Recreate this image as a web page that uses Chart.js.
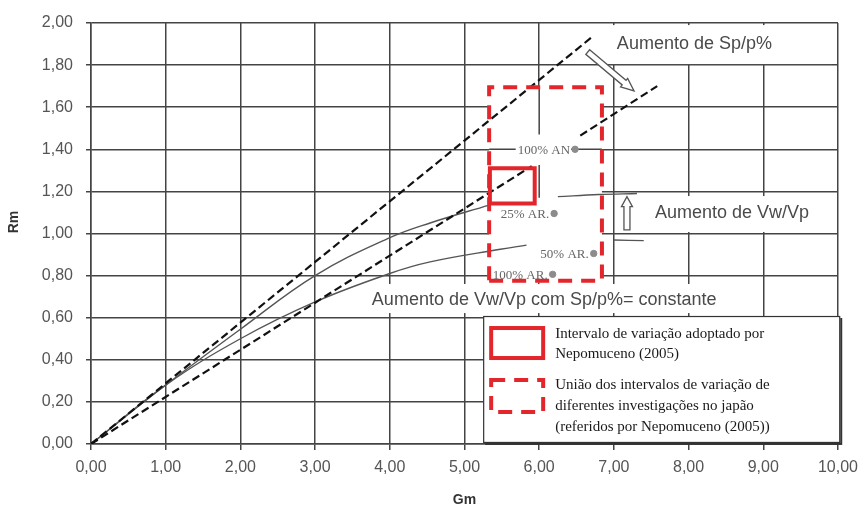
<!DOCTYPE html>
<html>
<head>
<meta charset="utf-8">
<script src="https://cdn.jsdelivr.net/npm/chart.js@4.4.1/dist/chart.umd.min.js"></script>
<style>
  html, body { margin: 0; padding: 0; background: #fff; }
  #wrap { width: 866px; height: 513px; }
</style>
</head>
<body>
<div id="wrap"><canvas id="c" width="866" height="513"></canvas></div>
<script>
// ---- axis ticks ----
const xTickLabels = ['0,00', '1,00', '2,00', '3,00', '4,00', '5,00', '6,00', '7,00', '8,00', '9,00', '10,00'];
const yTickLabels = ['0,00', '0,20', '0,40', '0,60', '0,80', '1,00', '1,20', '1,40', '1,60', '1,80', '2,00'];

// ---- straight bounds (dashed) ----
const upperBoundGm = [0, 6.73];
const upperBoundRm = [0, 1.94];
const lowerBoundGm = [0, 5.90, 6.20, 6.55, 7.58];
const lowerBoundRm = [0, 1.32, null, 1.465, 1.70];

// ---- Rm(Gm) curves (solid) ----
const upperCurveGm = [0, 1.0, 2.0, 3.0, 4.0, 4.54, 5.33, 5.80, 6.25, 6.80, 7.31];
const upperCurveRm = [0, 0.28, 0.545, 0.80, 0.98, 1.05, 1.135, null, 1.175, 1.185, 1.19];
const lowerCurveGm = [0, 1.0, 2.0, 3.0, 4.0, 4.54, 5.48, 5.83, 6.40, 7.00, 7.40];
const lowerCurveRm = [0, 0.28, 0.50, 0.675, 0.81, 0.865, 0.925, 0.945, null, 0.969, 0.966];

// ---- reference points ----
const pointGm = [6.48, 6.20, 6.73, 6.18];
const pointRm = [1.40, 1.095, 0.905, 0.806];
const pointLabels = ['100% AN', '25% AR.', '50% AR.', '100% AR.'];

// ---- variation intervals ----
const nepomucenoGm = [5.34, 5.94];
const nepomucenoRm = [1.143, 1.31];
const japanGm = [5.33, 6.84];
const japanRm = [0.776, 1.695];

// ---- legend ----
const legendLines1 = ['Intervalo de variação adoptado por', 'Nepomuceno (2005)'];
const legendLines2 = ['União dos intervalos de variação de', 'diferentes investigações no japão', '(referidos por Nepomuceno (2005))'];

const RED = '#e3262c';
const SANS = '"Liberation Sans", Arial, sans-serif';
const SERIF = '"Liberation Serif", "Times New Roman", serif';

const toPoints = (xs, ys) => xs.map((x, i) => ({ x: x, y: ys[i] }));
const rectPoints = (xs, ys) => [
  { x: xs[0], y: ys[0] }, { x: xs[1], y: ys[0] }, { x: xs[1], y: ys[1] },
  { x: xs[0], y: ys[1] }, { x: xs[0], y: ys[0] }
];

// text notes anchored in data units (left edge, vertical centre)
const notes = [
  { text: 'Aumento de Sp/p%', gm: 7.04, rm: 1.90, box: [6.89, 9.92, 1.805, 1.99] },
  { text: 'Aumento de Vw/Vp', gm: 7.55, rm: 1.097, box: [7.05, 9.92, 1.007, 1.178] },
  { text: 'Aumento de Vw/Vp com Sp/p%= constante', gm: 3.76, rm: 0.684, box: [3.68, 8.65, 0.622, 0.76] }
];

function hollowArrow(ctx, x1, y1, x2, y2, shaft, head, headLen) {
  const a = Math.atan2(y2 - y1, x2 - x1);
  const L = Math.hypot(x2 - x1, y2 - y1);
  ctx.save();
  ctx.translate(x1, y1);
  ctx.rotate(a);
  ctx.beginPath();
  ctx.moveTo(0, -shaft / 2);
  ctx.lineTo(L - headLen, -shaft / 2);
  ctx.lineTo(L - headLen, -head / 2);
  ctx.lineTo(L, 0);
  ctx.lineTo(L - headLen, head / 2);
  ctx.lineTo(L - headLen, shaft / 2);
  ctx.lineTo(0, shaft / 2);
  ctx.closePath();
  ctx.fillStyle = '#fff';
  ctx.fill();
  ctx.strokeStyle = '#555';
  ctx.lineWidth = 1.3;
  ctx.stroke();
  ctx.restore();
}

const overlays = {
  id: 'overlays',
  beforeDatasetsDraw(chart) {
    const ctx = chart.ctx, X = chart.scales.x, Y = chart.scales.y;
    const px = v => X.getPixelForValue(v), py = v => Y.getPixelForValue(v);
    ctx.save();
    ctx.fillStyle = '#fff';
    // blank interior of the union-of-intervals box
    ctx.fillRect(px(japanGm[0]), py(japanRm[1]), px(japanGm[1]) - px(japanGm[0]), py(japanRm[0]) - py(japanRm[1]));
    // note backgrounds
    notes.forEach(n => {
      ctx.fillRect(px(n.box[0]), py(n.box[3]), px(n.box[1]) - px(n.box[0]), py(n.box[2]) - py(n.box[3]));
    });
    // grid pieces that stay visible inside the box
    ctx.strokeStyle = '#444';
    ctx.lineWidth = 1.5;
    ctx.beginPath();
    ctx.moveTo(px(japanGm[0]), py(1.4));
    ctx.lineTo(px(japanGm[1]), py(1.4));
    ctx.moveTo(px(6), py(japanRm[1]));
    ctx.lineTo(px(6), py(1.47));
    ctx.moveTo(px(6), py(1.325));
    ctx.lineTo(px(6), py(1.17));
    ctx.stroke();
    // point label backgrounds
    ctx.font = '13px ' + SERIF;
    pointLabels.forEach((t, i) => {
      const w = ctx.measureText(t).width;
      const x = px(pointGm[i]) - 5;
      ctx.fillRect(x - w - 2, py(pointRm[i]) - 8, w + 3, 16);
    });
    ctx.restore();
  },
  afterDatasetsDraw(chart) {
    const ctx = chart.ctx, X = chart.scales.x, Y = chart.scales.y;
    const px = v => X.getPixelForValue(v), py = v => Y.getPixelForValue(v);
    ctx.save();
    // point labels
    ctx.font = '13px ' + SERIF;
    ctx.fillStyle = '#666';
    ctx.textAlign = 'right';
    ctx.textBaseline = 'middle';
    pointLabels.forEach((t, i) => ctx.fillText(t, px(pointGm[i]) - 5, py(pointRm[i]) + 1));

    // notes
    ctx.font = '18px ' + SANS;
    ctx.fillStyle = '#4a4a4a';
    ctx.textAlign = 'left';
    notes.forEach(n => ctx.fillText(n.text, px(n.gm), py(n.rm)));

    // arrows
    hollowArrow(ctx, px(6.65), py(1.862), px(7.27), py(1.677), 6, 11, 13);
    hollowArrow(ctx, px(7.175), py(1.017), px(7.175), py(1.175), 6, 11, 10);

    // legend box
    const lx0 = px(5.25), lx1 = px(10.03), ly0 = py(0.608), ly1 = py(0.005);
    ctx.fillStyle = '#333';
    ctx.fillRect(lx0 + 2, ly0 + 2, lx1 - lx0, ly1 - ly0);
    ctx.fillStyle = '#fff';
    ctx.fillRect(lx0, ly0, lx1 - lx0, ly1 - ly0);
    ctx.strokeStyle = '#333';
    ctx.lineWidth = 1.2;
    ctx.strokeRect(lx0 + 0.5, ly0 + 0.5, lx1 - lx0 - 1, ly1 - ly0 - 1);

    ctx.strokeStyle = RED;
    ctx.lineWidth = 4;
    ctx.strokeRect(lx0 + 8, ly0 + 12, 52, 30);
    ctx.setLineDash([14, 9]);
    ctx.strokeRect(lx0 + 8, ly0 + 64, 52, 32);
    ctx.setLineDash([]);

    ctx.font = '15px ' + SERIF;
    ctx.fillStyle = '#1a1a1a';
    ctx.textAlign = 'left';
    ctx.textBaseline = 'middle';
    legendLines1.forEach((t, i) => ctx.fillText(t, lx0 + 72, ly0 + 18 + i * 20.5));
    legendLines2.forEach((t, i) => ctx.fillText(t, lx0 + 72, ly0 + 69 + i * 21));

    // axis titles
    ctx.font = 'bold 14px ' + SANS;
    ctx.fillStyle = '#333';
    ctx.textAlign = 'center';
    ctx.fillText('Gm', (chart.chartArea.left + chart.chartArea.right) / 2, 500);
    ctx.translate(14, 222);
    ctx.rotate(-Math.PI / 2);
    ctx.fillText('Rm', 0, 0);
    ctx.restore();
  }
};

new Chart(document.getElementById('c'), {
  type: 'scatter',
  data: {
    datasets: [
      { // Nepomuceno interval
        data: rectPoints(nepomucenoGm, nepomucenoRm), showLine: true, order: -2,
        borderColor: RED, borderWidth: 4, pointRadius: 0, tension: 0, borderJoinStyle: 'miter'
      },
      { // union of Japanese intervals
        data: rectPoints(japanGm, japanRm), showLine: true, order: -2,
        borderColor: RED, borderWidth: 4, borderDash: [14, 9], pointRadius: 0, tension: 0
      },
      { // reference points
        data: toPoints(pointGm, pointRm), showLine: false, order: -1,
        pointRadius: 3.2, pointBackgroundColor: '#8c8c8c', pointBorderColor: '#8c8c8c'
      },
      {
        data: toPoints(upperBoundGm, upperBoundRm), showLine: true,
        borderColor: '#111', borderWidth: 2.2, borderDash: [8, 4], pointRadius: 0
      },
      {
        data: toPoints(lowerBoundGm, lowerBoundRm), showLine: true, spanGaps: false,
        borderColor: '#111', borderWidth: 2.2, borderDash: [8, 4], pointRadius: 0
      },
      {
        data: toPoints(upperCurveGm, upperCurveRm), showLine: true, spanGaps: false,
        borderColor: '#555', borderWidth: 1.4, pointRadius: 0, tension: 0.4
      },
      {
        data: toPoints(lowerCurveGm, lowerCurveRm), showLine: true, spanGaps: false,
        borderColor: '#555', borderWidth: 1.4, pointRadius: 0, tension: 0.4
      }
    ]
  },
  options: {
    responsive: false,
    animation: false,
    devicePixelRatio: 1,
    layout: { padding: { top: 23, right: 28, left: 0, bottom: 0 } },
    plugins: { legend: { display: false }, tooltip: { enabled: false } },
    scales: {
      x: {
        type: 'linear', min: 0, max: 10,
        afterFit: s => { s.height = 69; },
        grid: { color: '#444', lineWidth: 1.5, tickLength: 6, drawTicks: true },
        border: { color: '#444', width: 1.5 },
        ticks: {
          stepSize: 1, padding: 8, color: '#555', maxRotation: 0,
          font: { family: SANS, size: 16 },
          callback: (v, i) => xTickLabels[i]
        }
      },
      y: {
        type: 'linear', min: 0, max: 2,
        afterFit: s => { s.width = 91; },
        grid: { color: '#444', lineWidth: 1.5, tickLength: 5, drawTicks: true },
        border: { color: '#444', width: 1.5 },
        ticks: {
          stepSize: 0.2, padding: 13, color: '#555',
          font: { family: SANS, size: 16 },
          callback: (v, i) => yTickLabels[i]
        }
      }
    }
  },
  plugins: [overlays]
});
</script>
</body>
</html>
